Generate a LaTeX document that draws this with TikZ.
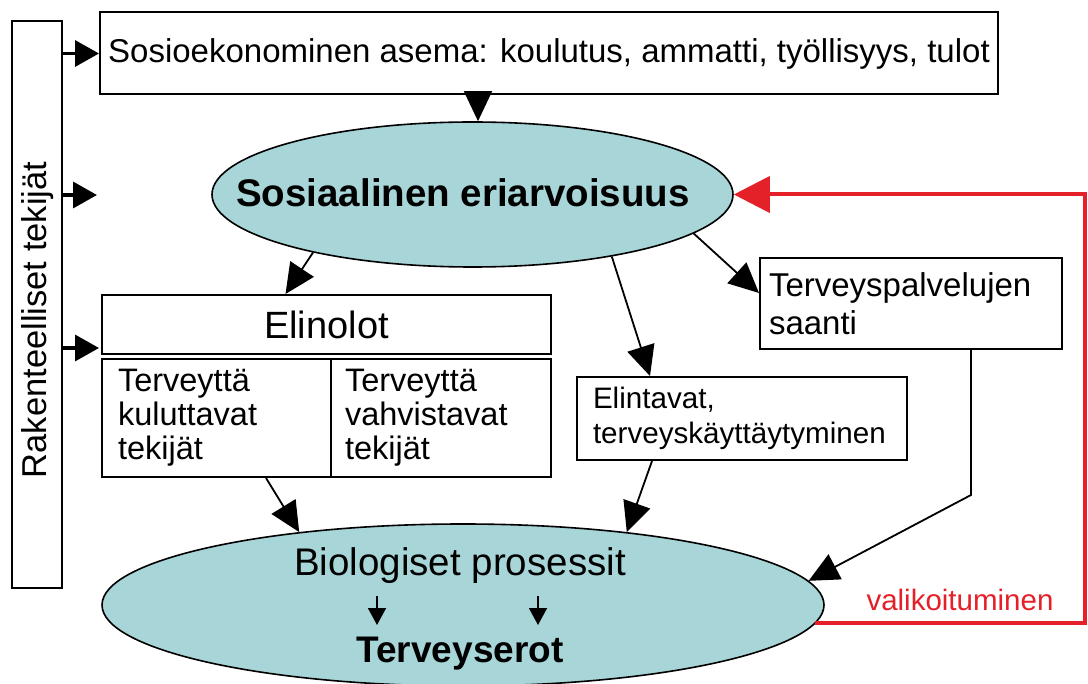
\documentclass[tikz,border=0pt]{standalone}
\usepackage{fontspec}
\setmainfont{Liberation Sans}
\usetikzlibrary{arrows.meta,shapes.geometric}
\definecolor{ellfill}{RGB}{168,213,216}
\definecolor{redline}{RGB}{228,32,40}
\tikzset{
  box/.style={draw=black, line width=2pt, fill=white, inner sep=0pt},
  ellbox/.style={ellipse, draw=black, line width=1.6pt, fill=ellfill, inner sep=0pt},
  arr/.style={line width=1.8pt, -{Triangle[length=30pt,width=28pt]}},
  sidearr/.style={line width=3.5pt, -{Triangle[length=24pt,width=26pt]}},
  smallarr/.style={line width=1.8pt, -{Triangle[length=17pt,width=18pt]}},
  redarr/.style={draw=redline, line width=4pt, -{Triangle[length=36pt,width=36pt]}},
}
\begin{document}
\begin{tikzpicture}[x=1pt,y=-1pt]
\useasboundingbox (0,0) rectangle (1088,684);

% left box
\node[box, minimum width=50pt, minimum height=567pt] (rak) at (37,304.5) {};
\node[rotate=90, font=\fontsize{34.5pt}{40pt}\selectfont] (raktext) at (38,320) {Rakenteelliset tekijät};

% top box
\node[box, minimum width=898pt, minimum height=82pt, font=\fontsize{33pt}{38pt}\selectfont] (top) at (549,53.5) {Sosioekonominen asema: koulutus, ammatti, työllisyys, tulot};

% ellipse 1
\node[ellbox, minimum width=521pt, minimum height=145pt] (ell1) at (472.5,194.5) {};
\node[font=\fontsize{38.5pt}{44pt}\selectfont\bfseries] (ell1text) at (463,193) {Sosiaalinen eriarvoisuus};

% Elinolot
\node[box, minimum width=449pt, minimum height=59pt, font=\fontsize{38pt}{44pt}\selectfont] (elin) at (326.5,324.5) {Elinolot};
\node[box, minimum width=229pt, minimum height=118pt, text width=197pt, inner xsep=16pt, align=left,
      font=\fontsize{32.5pt}{34pt}\selectfont] (kul) at (216.5,418) {Terveyttä\\kuluttavat\\tekijät};
\node[box, minimum width=220pt, minimum height=118pt, text width=192pt, inner xsep=14pt, align=left,
      font=\fontsize{32.5pt}{34pt}\selectfont] (vah) at (441,418) {Terveyttä\\vahvistavat\\tekijät};

% Terveyspalvelujen
\node[box, minimum width=302pt, minimum height=91pt, text width=284pt, inner xsep=9pt, align=left,
      font=\fontsize{33pt}{38pt}\selectfont] (tp) at (911,303.5) {Terveyspalvelujen\\saanti};

% Elintavat
\node[box, minimum width=330pt, minimum height=83pt, text width=298pt, inner xsep=16pt, align=left,
      font=\fontsize{29.6pt}{35pt}\selectfont] (elt) at (742,418.5) {Elintavat,\\terveyskäyttäytyminen};

% Bio ellipse
\node[ellbox, minimum width=722pt, minimum height=162pt] (bio) at (463,605) {};
\node[font=\fontsize{38.5pt}{44pt}\selectfont] (biotext) at (460,566) {Biologiset prosessit};
\node[font=\fontsize{37pt}{42pt}\selectfont\bfseries] (terv) at (460,654) {Terveyserot};
\coordinate (s1a) at (377,596);
\coordinate (s1b) at (377,625);
\coordinate (s2a) at (538,596);
\coordinate (s2b) at (538,625);
\draw[smallarr] (s1a) -- (s1b);
\draw[smallarr] (s2a) -- (s2b);

% side arrows
\coordinate (a2) at (97,195);
\coordinate (a3) at (99,348);
\draw[sidearr] (rak.east |- top.west) -- (top.west);
\draw[sidearr] (rak.east |- a2) -- (a2);
\draw[sidearr] (rak.east |- a3) -- (a3);

% main arrows
\draw[arr] ([xshift=5.5pt]ell1.north |- top.south) -- ([xshift=5.5pt]ell1.north);
\draw[arr] (ell1.200) -- ([xshift=-41pt]elin.north);
\draw[arr] (ell1.336) -- ([xshift=-92pt]elt.north);
\draw[arr] (ell1.350) -- ([yshift=10.5pt]tp.west);
\draw[arr] ([xshift=49.5pt]kul.south) -- (bio.156);
\draw[arr] ([xshift=-90pt]elt.south) -- (bio.24);
\coordinate (tpbend) at (971,495);
\draw[arr] ([xshift=60pt]tp.south) -- (tpbend) -- (bio.4.4);

% red feedback
\coordinate (redc) at (1085,194.5);
\draw[redarr] (bio.357) -| (redc) -- (ell1.east);
\node[text=redline, font=\fontsize{29.5pt}{34pt}\selectfont] (vali) at (960,600) {valikoituminen};
\end{tikzpicture}
\end{document}
